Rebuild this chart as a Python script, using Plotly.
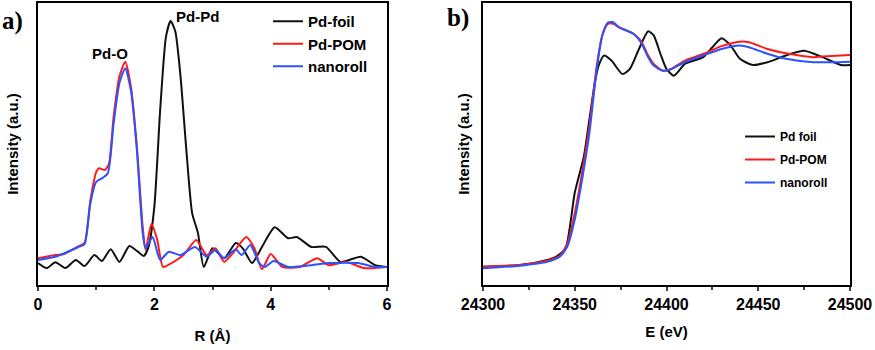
import plotly.graph_objects as go

# panel a: Fourier-transformed EXAFS, R (Angstrom) vs intensity (a.u.)
r_foil = [0, 0.15, 0.3, 0.47, 0.65, 0.8, 0.97, 1.1, 1.25, 1.4, 1.57, 1.7, 1.82, 1.9, 2.0, 2.1, 2.2, 2.28,
          2.36, 2.45, 2.55, 2.65, 2.75, 2.85, 3.0, 3.2, 3.4, 3.52, 3.68, 3.85, 4.07, 4.3, 4.45, 4.7, 4.95,
          5.2, 5.55, 5.8, 6.0]
i_foil = [7.8, 6, 8.1, 6, 8.9, 6.7, 10.6, 8.5, 12.7, 8.2, 13.8, 12.1, 10.3, 13.5, 27.7, 62, 88, 93.6,
          90, 74, 48, 25.5, 18.4, 6.4, 13, 9.5, 14.9, 13, 7.8, 13.5, 20.5, 16.6, 17, 13.5, 13.5,
          8.2, 10, 7, 6.4]

r_pom = [0, 0.3, 0.45, 0.7, 0.8, 0.9, 1.0, 1.05, 1.15, 1.22, 1.3, 1.4, 1.5, 1.6, 1.7, 1.8, 1.85, 1.95,
         2.05, 2.15, 2.3, 2.5, 2.72, 2.9, 3.05, 3.2, 3.35, 3.58, 3.72, 3.85, 4.0, 4.2, 4.5, 4.8, 5.0,
         5.3, 5.6, 6.0]
i_pom = [9.5, 10.6, 11, 13.8, 14.9, 30, 40, 41.4, 40.8, 43, 59.6, 74, 79.2, 70, 49, 20.6, 12.4, 21.6,
         16, 6.4, 7.8, 10.6, 16, 10.6, 13, 8.2, 11.3, 17, 13, 5.6, 11, 6.4, 6.4, 9.5, 7,
         8.2, 6, 6.4]

r_roll = [0, 0.3, 0.7, 0.8, 0.9, 1.0, 1.1, 1.2, 1.3, 1.4, 1.5, 1.6, 1.7, 1.8, 1.85, 1.97, 2.1, 2.25,
          2.45, 2.7, 2.9, 3.05, 3.2, 3.4, 3.5, 3.65, 3.8, 3.9, 4.05, 4.3, 4.7, 5.0, 5.5, 5.8, 6.0]
i_roll = [8.9, 10, 13.5, 14.5, 29, 36.6, 37.8, 39.6, 57.3, 71.6, 76.9, 68.6, 48, 18.4, 13, 17, 8.9, 11.8,
          10.6, 13.5, 10, 12.4, 9.5, 12.7, 10.6, 14.2, 7.8, 6.4, 8.5, 6.4, 7, 7.8, 7.8, 6.4, 6.4]

# panel b: XANES, E (eV) vs intensity (a.u.)
e_foil = [24300, 24320, 24335, 24340, 24345, 24350, 24355, 24358, 24361, 24363, 24366, 24370, 24376,
          24380, 24385, 24390, 24393, 24397, 24400, 24404, 24410, 24415, 24420, 24425, 24430, 24435,
          24440, 24447, 24455, 24465, 24475, 24485, 24495, 24500]
a_foil = [6.5, 7.1, 8.9, 10.1, 13, 32.7, 45.7, 58.8, 71.9, 77.8, 81.4, 79.6, 74.8,
          76.6, 83.7, 90, 88.5, 81.4, 76.6, 74.2, 78.4, 79.6, 80.8, 84.3, 87.5, 84.9,
          80.2, 78, 79, 81.4, 83.1, 80.8, 78, 78]

e_xas = [24300, 24320, 24335, 24342, 24346, 24350, 24354, 24358, 24362, 24365, 24368, 24371, 24374,
         24378, 24382, 24386, 24390, 24393, 24398, 24402, 24410, 24420, 24430, 24440, 24445, 24455,
         24465, 24480, 24490, 24500]
a_pom = [6.5, 7.1, 8.6, 10.5, 14.8, 25.5, 39.8, 56.4, 77.8, 88.5, 92.6, 92.6, 91.4,
         90.3, 89.1, 86.7, 81.4, 78.4, 76, 76.4, 79.6, 81.9, 84.7, 86.3, 86.1, 83.7,
         82.2, 80.8, 81.2, 81.6]
a_roll = [5.9, 6.8, 8.2, 10.1, 13.7, 23.2, 37.4, 54, 76.6, 88.5, 93, 93.2, 91.4,
          90.3, 89.1, 86.1, 80.8, 77.8, 76, 76.4, 79, 81.4, 83.7, 84.9, 84.3, 82,
          80.2, 79, 79, 79.2]

BLACK, RED, BLUE = "#111111", "#ff1a1a", "#2a52ff"
FONT = "Liberation Sans, Arial"

fig = go.Figure()
fig.add_trace(go.Scatter(x=r_foil, y=i_foil, name="Pd-foil", line=dict(color=BLACK, width=2, shape="spline", smoothing=0.6)))
fig.add_trace(go.Scatter(x=r_pom, y=i_pom, name="Pd-POM", line=dict(color=RED, width=2, shape="spline", smoothing=0.6)))
fig.add_trace(go.Scatter(x=r_roll, y=i_roll, name="nanoroll", line=dict(color=BLUE, width=2, shape="spline", smoothing=0.6)))

fig.add_trace(go.Scatter(x=e_foil, y=a_foil, name="Pd foil", xaxis="x2", yaxis="y2", legend="legend2",
                         legendgroup="g1", line=dict(color=BLACK, width=2, shape="spline", smoothing=0.6)))
fig.add_trace(go.Scatter(x=e_xas, y=a_pom, name="Pd-POM", xaxis="x2", yaxis="y2", legend="legend2",
                         legendgroup="g2", line=dict(color=RED, width=2, shape="spline", smoothing=0.6)))
fig.add_trace(go.Scatter(x=e_xas, y=a_roll, name="nanoroll", xaxis="x2", yaxis="y2", legend="legend2",
                         legendgroup="g3", line=dict(color=BLUE, width=2, shape="spline", smoothing=0.6)))

axis_common = dict(showline=True, linecolor="black", linewidth=2, mirror=True, showgrid=False,
                   zeroline=False, automargin=False,
                   tickfont=dict(family=FONT, size=16, color="black", weight="bold"))
ydom = [65 / 350, 347 / 350]

fig.update_layout(
    width=875, height=350,
    margin=dict(l=0, r=0, t=0, b=0),
    paper_bgcolor="white", plot_bgcolor="white",
    font=dict(family=FONT, color="black"),
    xaxis=dict(axis_common, domain=[38 / 875, 387 / 875], range=[0, 6], tickvals=[0, 2, 4, 6],
               ticks="outside", ticklen=4, tickwidth=2,
               minor=dict(tickvals=[1, 3, 5], ticks="outside", ticklen=3, tickwidth=2),
               title=dict(text="<b>R (Å)</b>", font=dict(size=15), standoff=18)),
    yaxis=dict(axis_common, domain=ydom, range=[0, 100], showticklabels=False, ticks="",
               title=dict(text="<b>Intensity (a.u.)</b>", font=dict(size=15), standoff=14)),
    xaxis2=dict(axis_common, domain=[483 / 875, 850 / 875], range=[24300, 24500], anchor="y2",
                tickvals=[24300, 24350, 24400, 24450, 24500], tickformat="d",
                ticks="outside", ticklen=4, tickwidth=2,
                minor=dict(tickvals=[24325, 24375, 24425, 24475], ticks="outside", ticklen=3, tickwidth=2),
                title=dict(text="<b>E (eV)</b>", font=dict(size=15), standoff=14)),
    yaxis2=dict(axis_common, domain=ydom, range=[0, 100], anchor="x2", showticklabels=False, ticks="",
                title=dict(text="<b>Intensity (a.u.)</b>", font=dict(size=15), standoff=8)),
    legend=dict(x=268 / 875, y=1 - 5 / 350, xanchor="left", yanchor="top", bgcolor="rgba(0,0,0,0)",
                font=dict(size=15, weight="bold"), itemwidth=30, tracegroupgap=0),
    legend2=dict(x=740 / 875, y=1 - 122 / 350, xanchor="left", yanchor="top", bgcolor="rgba(0,0,0,0)",
                 font=dict(size=12, weight="bold"), itemwidth=30, tracegroupgap=4),
    showlegend=True,
)

fig.add_annotation(text="<b>Pd-O</b>", x=1.24, y=78.5, xref="x", yref="y", showarrow=False,
                   yanchor="bottom", font=dict(size=15))
fig.add_annotation(text="<b>Pd-Pd</b>", x=2.75, y=91.5, xref="x", yref="y", showarrow=False,
                   yanchor="bottom", font=dict(size=15))
fig.add_annotation(text="<b>a)</b>", x=0, y=1 - 5 / 350, xref="paper", yref="paper", showarrow=False,
                   xanchor="left", yanchor="top", font=dict(family="Liberation Serif", size=25))
fig.add_annotation(text="<b>b)</b>", x=445 / 875, y=1 - 2 / 350, xref="paper", yref="paper", showarrow=False,
                   xanchor="left", yanchor="top", font=dict(family="Liberation Serif", size=25))

# drop the default page margin so the figure sits at the window corner
fig.write_html("out.html", config={"displayModeBar": False},
               post_script="document.body.style.margin='0';")
